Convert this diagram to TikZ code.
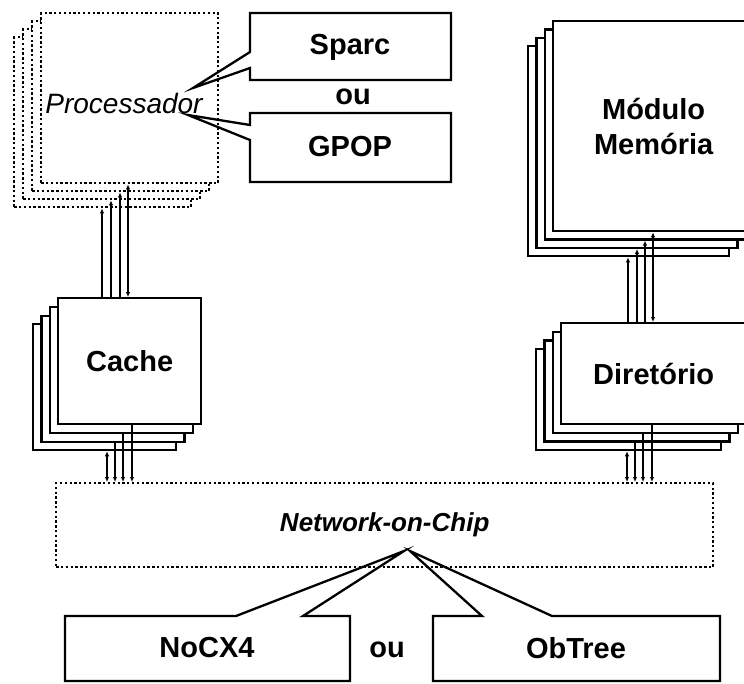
\documentclass[tikz,border=0pt]{standalone}
\usepackage{fontspec}
\setmainfont{Liberation Sans}
\usetikzlibrary{arrows.meta}
\begin{document}
\begin{tikzpicture}[x=1pt,y=-1pt,
  box/.style={draw, line width=2.3pt, fill=white, inner sep=0pt, anchor=north west,
    align=center, font=\fontsize{29}{35}\selectfont\bfseries},
  dotbox/.style={box, line width=2.4pt, dash pattern=on 2.3pt off 2.5pt},
  conn/.style={line width=1.3pt, >={Latex[length=5pt,width=4.5pt]}},
  lbl/.style={font=\fontsize{29}{35}\selectfont\bfseries, inner sep=0pt},
  callout/.style={draw, line width=2.3pt, line join=miter},
]
\useasboundingbox (0,0) rectangle (744,683);

% processor copies (dotted), back to front
\foreach \i/\x/\y in {4/13/36, 3/22/28, 2/31/20}
  \node[dotbox, minimum width=177pt, minimum height=170pt] (proc\i) at (\x,\y) {};
\node[dotbox, minimum width=177pt, minimum height=170pt] (proc1) at (40,12) {};
\node[lbl, font=\fontsize{28}{34}\selectfont\itshape] (proclbl) at (124,103) {Processador};

% processor alternatives
\draw[callout] (451,13) -- (250,13) -- (250,52) -- (193,88) -- (250,68) -- (250,80) -- (451,80) -- cycle;
\node[lbl] (sparc) at (350,47) {Sparc};
\node[lbl] (ou1) at (353,97) {ou};
\draw[callout] (451,113) -- (250,113) -- (250,125) -- (188,115) -- (250,140) -- (250,182) -- (451,182) -- cycle;
\node[lbl] (gpop) at (350,147) {GPOP};

% cache copies
\foreach \i/\x/\y in {4/32/323, 3/40.3/314.5, 2/48.7/306}
  \node[box, minimum width=143pt, minimum height=126pt] (cache\i) at (\x,\y) {};
\node[box, minimum width=143pt, minimum height=126pt] (cache1) at (57,297) {Cache};

% memory module copies
\foreach \i/\x/\y in {4/527/45, 3/535.3/36.7, 2/543.7/28.3}
  \node[box, minimum width=201pt, minimum height=210pt] (mem\i) at (\x,\y) {};
\node[box, minimum width=201pt, minimum height=210pt] (mem1) at (552,20) {Módulo\\Memória};

% directory copies
\foreach \i/\x/\y in {4/535/348, 3/543.3/339.3, 2/551.7/330.7}
  \node[box, minimum width=185pt, minimum height=101pt] (dir\i) at (\x,\y) {};
\node[box, minimum width=185pt, minimum height=101pt] (dir1) at (560,322) {Diretório};

% network-on-chip
\node[dotbox, minimum width=657pt, minimum height=84pt,
  font=\fontsize{26}{30}\selectfont\bfseries\itshape] (noc) at (55,482) {Network-on-Chip};

% network alternatives
\draw[callout] (65,616) -- (236,616) -- (404,551) -- (303,616) -- (350,616) -- (350,681) -- (65,681) -- cycle;
\node[lbl] (nocx) at (207,648) {NoCX4};
\node[lbl] (ou2) at (387,650) {ou};
\draw[callout] (433,616) -- (482,616) -- (410,551) -- (552,616) -- (720,616) -- (720,681) -- (433,681) -- cycle;
\node[lbl] (obtree) at (576,648) {ObTree};

% processor <-> cache
\draw[conn,->] (cache1.north -| 102,0) -- (proc4.south -| 102,0);
\draw[conn,->] (cache1.north -| 111,0) -- (proc3.south -| 111,0);
\draw[conn,->] (cache1.north -| 120,0) -- (proc2.south -| 120,0);
\draw[conn,<->] (cache1.north -| 128,0) -- (proc1.south -| 128,0);

% cache <-> network
\draw[conn,<->] (noc.north -| 107,0) -- (cache4.south -| 107,0);
\draw[conn,->] (cache3.south -| 115,0) -- (noc.north -| 115,0);
\draw[conn,->] (cache2.south -| 123,0) -- (noc.north -| 123,0);
\draw[conn,->] (cache1.south -| 132,0) -- (noc.north -| 132,0);

% memory <-> directory
\draw[conn,->] (dir1.north -| 628,0) -- (mem4.south -| 628,0);
\draw[conn,->] (dir1.north -| 637,0) -- (mem3.south -| 637,0);
\draw[conn,->] (dir1.north -| 645,0) -- (mem2.south -| 645,0);
\draw[conn,<->] (dir1.north -| 653,0) -- (mem1.south -| 653,0);

% directory <-> network
\draw[conn,<->] (noc.north -| 627,0) -- (dir4.south -| 627,0);
\draw[conn,->] (dir3.south -| 635,0) -- (noc.north -| 635,0);
\draw[conn,->] (dir2.south -| 643,0) -- (noc.north -| 643,0);
\draw[conn,->] (dir1.south -| 652,0) -- (noc.north -| 652,0);
\end{tikzpicture}
\end{document}
